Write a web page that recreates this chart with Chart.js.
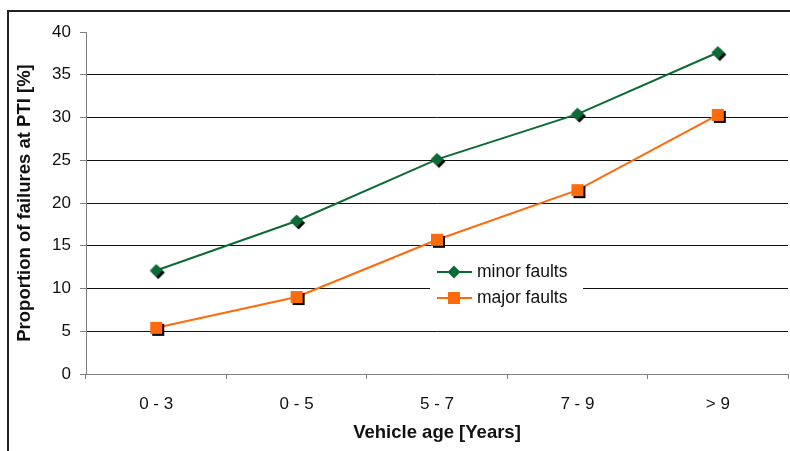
<!DOCTYPE html>
<html>
<head>
<meta charset="utf-8">
<script src="https://cdn.jsdelivr.net/npm/chart.js@4/dist/chart.umd.min.js"></script>
<style>
  html, body { margin: 0; padding: 0; background: #fff; }
  #wrap { width: 790px; height: 451px; }
</style>
</head>
<body>
<div id="wrap"><canvas id="chart" width="790" height="451"></canvas></div>
<script>
var ageGroups = ['0 - 3', '0 - 5', '5 - 7', '7 - 9', '> 9'];
var minorFaults = [12.1, 17.9, 25.1, 30.4, 37.6];
var majorFaults = [5.4, 9.0, 15.7, 21.5, 30.3];
var seriesNames = ['minor faults', 'major faults'];
var green = '#0b6a35';
var orange = '#ff6a0a';
var fontFamily = 'Arial, "Liberation Sans", sans-serif';

// marker images, with the little black shadow the original has
function makeMarker(shape, color, shadow) {
  var c = document.createElement('canvas');
  c.width = 20;
  c.height = 20;
  var g = c.getContext('2d');
  function shapePath(cx, cy) {
    g.beginPath();
    if (shape === 'diamond') {
      g.moveTo(cx, cy - 6.5);
      g.lineTo(cx + 6.5, cy);
      g.lineTo(cx, cy + 6.5);
      g.lineTo(cx - 6.5, cy);
      g.closePath();
    } else {
      g.rect(cx - 6, cy - 6, 12, 12);
    }
  }
  if (shadow) {
    g.fillStyle = '#000';
    shapePath(12, 12);
    g.fill();
  }
  g.fillStyle = color;
  shapePath(10, 10);
  g.fill();
  return c;
}

var diamond = makeMarker('diamond', green, true);
var square = makeMarker('square', orange, true);
var diamondPlain = makeMarker('diamond', green, false);
var squarePlain = makeMarker('square', orange, false);

var framePlugin = {
  id: 'frame',
  beforeDraw: function(chart) {
    var ctx = chart.ctx;
    ctx.save();
    ctx.strokeStyle = '#222';
    ctx.lineWidth = 2;
    ctx.strokeRect(8, 11, 800, 500);
    ctx.restore();
  }
};

var legendPlugin = {
  id: 'boxLegend',
  afterDraw: function(chart) {
    var ctx = chart.ctx;
    var items = [
      { name: seriesNames[0], color: green, img: diamondPlain, y: 272 },
      { name: seriesNames[1], color: orange, img: squarePlain, y: 298 }
    ];
    ctx.save();
    ctx.fillStyle = '#fff';
    ctx.fillRect(430, 259, 153, 52);
    items.forEach(function(it) {
      ctx.strokeStyle = it.color;
      ctx.lineWidth = 2;
      ctx.beginPath();
      ctx.moveTo(437, it.y);
      ctx.lineTo(472, it.y);
      ctx.stroke();
      ctx.drawImage(it.img, 454 - 10, it.y - 10);
      ctx.fillStyle = '#111';
      ctx.font = '17.5px ' + fontFamily;
      ctx.textBaseline = 'middle';
      ctx.fillText(it.name, 477, it.y);
    });
    ctx.restore();
  }
};

new Chart(document.getElementById('chart'), {
  type: 'line',
  data: {
    labels: ageGroups,
    datasets: [
      {
        label: seriesNames[0],
        data: minorFaults,
        borderColor: green,
        backgroundColor: green,
        borderWidth: 2,
        pointStyle: diamond,
        tension: 0
      },
      {
        label: seriesNames[1],
        data: majorFaults,
        borderColor: orange,
        backgroundColor: orange,
        borderWidth: 2,
        pointStyle: square,
        tension: 0
      }
    ]
  },
  options: {
    responsive: false,
    animation: false,
    layout: { autoPadding: false, padding: { left: 0, right: 2, top: 32, bottom: 0 } },
    plugins: {
      legend: { display: false },
      tooltip: { enabled: false }
    },
    scales: {
      x: {
        offset: true,
        grid: {
          offset: true,
          drawOnChartArea: false,
          drawTicks: true,
          tickLength: 5,
          tickColor: '#808080'
        },
        border: { color: '#808080', width: 1 },
        ticks: {
          color: '#111',
          font: { family: fontFamily, size: 17 },
          padding: 15
        },
        title: {
          display: true,
          text: 'Vehicle age [Years]',
          color: '#111',
          font: { family: fontFamily, size: 18.5, weight: 'bold' },
          padding: { top: 0, bottom: 7 }
        },
        afterFit: function(s) {
          s.height = 77;
          s.paddingLeft = 0;
          s.paddingRight = 0;
        }
      },
      y: {
        min: 0,
        max: 40,
        ticks: {
          stepSize: 5,
          color: '#111',
          font: { family: fontFamily, size: 17 },
          padding: 9
        },
        grid: {
          color: function(c) {
            if (c.tick && c.tick.value === 40) return 'rgba(0,0,0,0)';
            if (c.tick && c.tick.value === 0) return '#808080';
            return '#111';
          },
          tickColor: '#808080',
          tickLength: 6,
          lineWidth: 1
        },
        border: { color: '#808080', width: 1 },
        title: {
          display: true,
          text: 'Proportion of failures at PTI [%]',
          color: '#111',
          font: { family: fontFamily, size: 18.5, weight: 'bold' },
          padding: { top: 14, bottom: 0 }
        },
        afterFit: function(s) { s.width = 86; }
      }
    }
  },
  plugins: [framePlugin, legendPlugin]
});
</script>
</body>
</html>
